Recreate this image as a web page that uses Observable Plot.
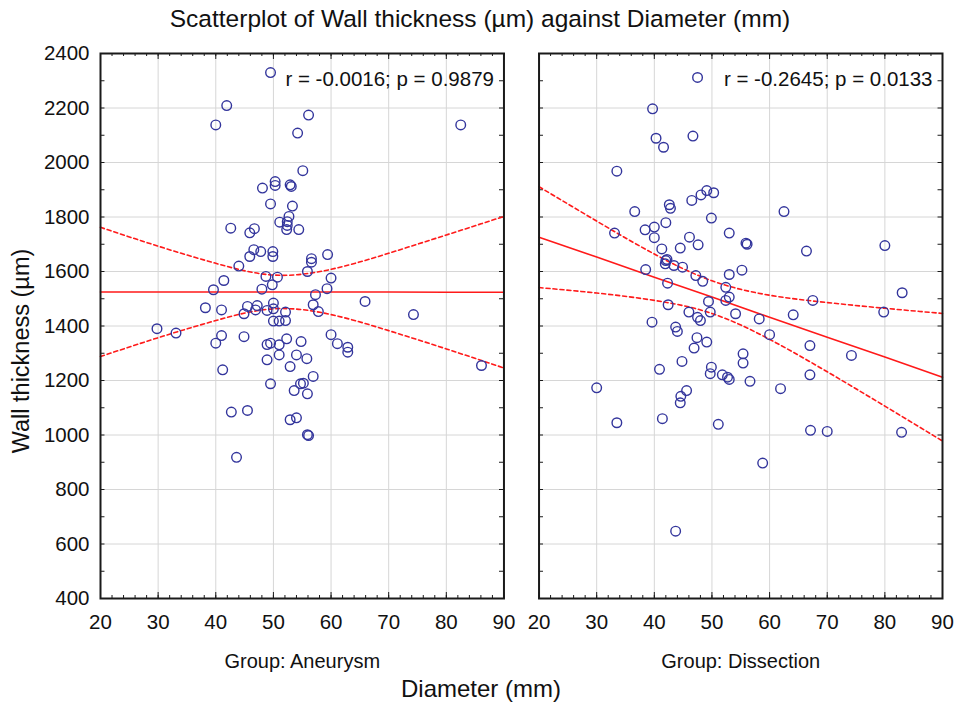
<!DOCTYPE html>
<html>
<head>
<meta charset="utf-8">
<script src="https://cdn.jsdelivr.net/npm/d3@7"></script>
<script src="https://cdn.jsdelivr.net/npm/@observablehq/plot@0.6"></script>
<style>
  body { margin: 0; background: #fff; font-family: "Liberation Sans", Arial, sans-serif; color: #111; }
  #wrap { position: relative; width: 956px; height: 704px; overflow: hidden; }
  #wrap svg { position: absolute; left: 0; top: 0; }
  .lbl { position: absolute; white-space: nowrap; color: #111; line-height: 1; }
  #title { left: 0; width: 960px; top: 7px; text-align: center; font-size: 24.5px; }
  #xlab { left: 0; width: 962px; top: 677px; text-align: center; font-size: 24px; }
  #ylab { left: 22px; top: 351px; font-size: 23.5px; transform: translate(-50%, -50%) rotate(-90deg); }
</style>
</head>
<body>
<div id="wrap">
  <div class="lbl" id="title">Scatterplot of Wall thickness (µm) against Diameter (mm)</div>
  <div class="lbl" id="ylab">Wall thickness (µm)</div>
  <div class="lbl" id="xlab">Diameter (mm)</div>
</div>
<script>
// ---- Data ----
const groups = ["Aneurysm", "Dissection"];
const statLabels = ["r = -0.0016; p = 0.9879", "r = -0.2645; p = 0.0133"];

const aneurysmDiameter = [
  49.5, 41.9, 40.0, 56.1, 54.2, 82.5, 55.1, 48.1, 50.3, 50.3,
  52.9, 53.1, 49.5, 53.3, 52.7, 51.1, 52.4, 52.4, 52.3, 54.4,
  42.6, 45.9, 46.7, 46.6, 47.8, 49.9, 49.9, 45.9, 44.0, 56.6,
  56.6, 55.9, 59.4, 48.7, 50.7, 41.4, 49.8, 39.6, 48.0, 60.0,
  59.3, 57.3, 56.9, 57.8, 65.9, 74.3, 38.2, 41.0, 44.9, 45.5,
  46.9, 47.2, 48.9, 50.0, 50.0, 52.1, 50.0, 51.0, 52.1, 29.8,
  33.1, 41.0, 40.0, 44.9, 48.9, 49.5, 51.0, 52.3, 54.8, 60.0,
  61.1, 62.9, 62.9, 51.0, 54.0, 48.9, 52.9, 55.8, 41.2, 56.9,
  49.5, 54.7, 55.2, 53.6, 55.9, 42.7, 45.5, 52.9, 54.0, 55.9,
  56.1, 43.6, 86.1
];
const aneurysmWall = [
  2330, 2209, 2138, 2174, 2108, 2138, 1970, 1906, 1930, 1916,
  1918, 1912, 1848, 1840, 1802, 1781, 1783, 1769, 1754, 1754,
  1759, 1742, 1757, 1680, 1673, 1673, 1655, 1655, 1620, 1647,
  1634, 1600, 1662, 1582, 1579, 1567, 1551, 1533, 1535, 1576,
  1537, 1515, 1478, 1453, 1490, 1442, 1467, 1459, 1445, 1472,
  1459, 1475, 1457, 1484, 1463, 1451, 1418, 1418, 1420, 1390,
  1374, 1365, 1337, 1361, 1332, 1337, 1331, 1353, 1343, 1368,
  1335, 1322, 1304, 1294, 1294, 1276, 1251, 1280, 1239, 1215,
  1188, 1188, 1190, 1163, 1151, 1084, 1090, 1056, 1063, 1001,
  998, 918, 1255
];

const dissectionDiameter = [
  47.5, 39.7, 40.3, 41.6, 46.7, 33.5, 36.6, 33.1, 42.6, 42.8,
  42.0, 38.4, 40.0, 40.0, 41.3, 42.2, 44.5, 46.1, 47.6, 46.5,
  48.1, 49.1, 50.3, 49.9, 53.0, 55.9, 56.1, 62.5, 66.4, 80.0,
  38.5, 42.0, 41.9, 43.4, 44.9, 47.2, 48.4, 42.3, 53.0, 55.2,
  52.4, 53.0, 52.4, 49.4, 49.7, 54.1, 42.4, 46.0, 47.5, 48.0,
  39.6, 43.7, 44.0, 47.4, 49.1, 46.9, 44.8, 40.9, 49.9, 49.7,
  51.8, 52.7, 53.0, 55.4, 55.4, 30.0, 45.6, 44.6, 44.5, 33.5,
  41.4, 51.1, 58.2, 60.0, 64.1, 67.5, 79.8, 83.0, 67.0, 74.2,
  56.6, 61.9, 67.0, 67.1, 70.0, 82.9, 58.8, 43.7
];
const dissectionWall = [
  2312, 2197, 2089, 2056, 2097, 1968, 1820, 1741, 1845, 1832,
  1779, 1753, 1763, 1724, 1683, 1644, 1686, 1726, 1698, 1861,
  1881, 1897, 1889, 1796, 1741, 1704, 1700, 1820, 1675, 1695,
  1607, 1640, 1628, 1622, 1616, 1585, 1564, 1557, 1589, 1605,
  1542, 1506, 1494, 1490, 1451, 1445, 1478, 1451, 1432, 1420,
  1414, 1396, 1380, 1357, 1341, 1319, 1270, 1241, 1249, 1225,
  1221, 1212, 1204, 1298, 1264, 1173, 1163, 1142, 1118, 1045,
  1060, 1039, 1426, 1368, 1441, 1494, 1451, 1522, 1328, 1292,
  1197, 1170, 1221, 1017, 1013, 1010, 897, 647
];

// Regression lines and 95% bands, read at these diameters
const fitDiameter = [20, 30, 40, 50, 60, 70, 80, 90];
const aneurysmFit   = [1525, 1525, 1525, 1525, 1525, 1525, 1524, 1524];
const aneurysmUpper = [1762, 1693, 1630, 1587, 1608, 1667, 1734, 1802];
const aneurysmLower = [1288, 1357, 1420, 1463, 1442, 1383, 1316, 1246];
const dissectionFit   = [1726, 1653, 1579, 1506, 1432, 1359, 1286, 1212];
const dissectionUpper = [1911, 1785, 1664, 1566, 1513, 1486, 1465, 1446];
const dissectionLower = [1541, 1521, 1494, 1446, 1351, 1232, 1106, 978];

// Axis ticks
const xMajor = [20, 30, 40, 50, 60, 70, 80, 90];
const xMinor = d3.range(20, 90.1, 2);
const yMajor = [400, 600, 800, 1000, 1200, 1400, 1600, 1800, 2000, 2200, 2400];
const yMinor = d3.range(400, 2400.1, 100);

// ---- Build tables ----
const points = [
  ...aneurysmDiameter.map((x, i) => ({group: groups[0], x, y: aneurysmWall[i]})),
  ...dissectionDiameter.map((x, i) => ({group: groups[1], x, y: dissectionWall[i]}))
];
const fits = [
  ...fitDiameter.map((x, i) => ({group: groups[0], x, fit: aneurysmFit[i], upper: aneurysmUpper[i], lower: aneurysmLower[i]})),
  ...fitDiameter.map((x, i) => ({group: groups[1], x, fit: dissectionFit[i], upper: dissectionUpper[i], lower: dissectionLower[i]}))
];
const stats = groups.map((g, i) => ({group: g, label: statLabels[i]}));

const mTop = 53, mBottom = 106, mLeft = 100, mRight = 14, height = 704;
const H = height - mTop - mBottom;
const W = 404;
const red = "#ff1a1a";
const dark = "#1a1a1a";

const chart = Plot.plot({
  width: 956,
  height,
  marginTop: mTop,
  marginBottom: mBottom,
  marginLeft: mLeft,
  marginRight: mRight,
  style: {fontFamily: "'Liberation Sans', Arial, sans-serif", fontSize: "20px", color: "#111", background: "transparent"},
  x: {domain: [20, 90]},
  y: {domain: [400, 2400]},
  fx: {domain: groups, paddingInner: 0.08, paddingOuter: 0, round: false},
  marks: [
    Plot.gridX(xMajor, {stroke: "#d6d6d6", strokeOpacity: 1, strokeWidth: 1}),
    Plot.gridY(yMajor, {stroke: "#d6d6d6", strokeOpacity: 1, strokeWidth: 1}),
    // inward ticks
    Plot.tickX(xMajor, {x: d => d, insetTop: H - 6, stroke: dark}),
    Plot.tickX(xMajor, {x: d => d, insetBottom: H - 6, stroke: dark}),
    Plot.tickX(xMinor, {x: d => d, insetTop: H - 3, stroke: dark}),
    Plot.tickX(xMinor, {x: d => d, insetBottom: H - 3, stroke: dark}),
    Plot.tickY(yMinor, {y: d => d, insetRight: W - 5, stroke: dark}),
    Plot.tickY(yMinor, {y: d => d, insetLeft: W - 5, stroke: dark}),
    Plot.axisX(xMajor, {tickSize: 0, tickPadding: 16, label: null, fontSize: 20.5, tickFormat: d => String(d)}),
    Plot.axisY(yMajor, {tickSize: 0, tickPadding: 11, label: null, fontSize: 20.5, tickFormat: d => String(d)}),
    Plot.axisFx({anchor: "bottom", tickSize: 0, tickPadding: 55, label: null, fontSize: 20, tickFormat: d => "Group: " + d}),
    // regression + confidence bands
    Plot.line(fits, {x: "x", y: "upper", fx: "group", stroke: red, strokeWidth: 1.6, strokeDasharray: "4,3", curve: "natural"}),
    Plot.line(fits, {x: "x", y: "lower", fx: "group", stroke: red, strokeWidth: 1.6, strokeDasharray: "4,3", curve: "natural"}),
    Plot.line(fits, {x: "x", y: "fit", fx: "group", stroke: red, strokeWidth: 1.6}),
    // points
    Plot.dot(points, {x: "x", y: "y", fx: "group", r: 4.8, stroke: "#33359c", strokeWidth: 1.4, fill: "none"}),
    Plot.text(stats, {fx: "group", text: "label", frameAnchor: "top-right", textAnchor: "end", dx: -10, dy: 18, fontSize: 20.5, fill: "#111"}),
    Plot.frame({stroke: dark, strokeWidth: 2})
  ]
});
document.getElementById("wrap").prepend(chart);
</script>
</body>
</html>
